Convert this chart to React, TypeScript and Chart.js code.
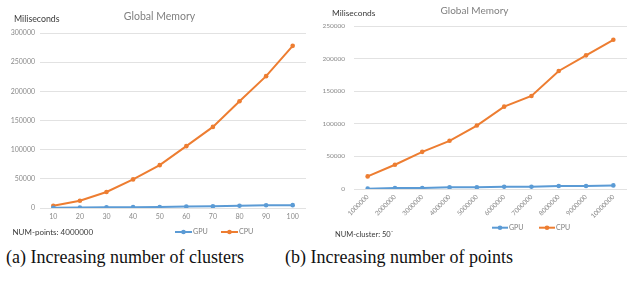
import React, { useEffect, useRef } from "react";
import { Chart, registerables } from "chart.js";

Chart.register(...registerables);

// ---------- data ----------
const clusterLabels = ["10", "20", "30", "40", "50", "60", "70", "80", "90", "100"];
const gpuByClusters = [400, 700, 1300, 1500, 1700, 2600, 2900, 3900, 4700, 4900];
const cpuByClusters = [3900, 12500, 27500, 49000, 73500, 106000, 139000, 183000, 226000, 278000];

const pointLabels = [
  "1000000", "2000000", "3000000", "4000000", "5000000",
  "6000000", "7000000", "8000000", "9000000", "10000000",
];
const gpuByPoints = [500, 1500, 1500, 2500, 2500, 3500, 3500, 4500, 4500, 5500];
const cpuByPoints = [19300, 37200, 57000, 73900, 97300, 126300, 142700, 181000, 205000, 228800];

const chartTitle = "Global Memory";
const yAxisLabel = "Miliseconds";
const noteA = "NUM-points: 4000000";
const noteB = "NUM-cluster: 50`";
const captionA = "(a) Increasing number of clusters";
const captionB = "(b) Increasing number of points";

const GPU_COLOR = "#5B9BD5";
const CPU_COLOR = "#ED7D31";
const FONT = "Lato, 'Open Sans', sans-serif";

type Decor = {
  yLabel: { x: number; y: number; size: number };
  note: { text: string; x: number; y: number; size: number };
  legend: { y: number; items: { x0: number; x1: number; tx: number }[]; size: number };
};

const decorPlugin = {
  id: "excelDecor",
  afterDraw(chart: any, _args: any, opts: Decor) {
    if (!opts || !opts.yLabel) return;
    const ctx = chart.ctx as CanvasRenderingContext2D;
    ctx.save();
    ctx.textBaseline = "middle";
    ctx.textAlign = "left";
    ctx.fillStyle = "#3a3a3a";
    ctx.font = `${opts.yLabel.size}px ${FONT}`;
    ctx.fillText(yAxisLabel, opts.yLabel.x, opts.yLabel.y);
    ctx.font = `${opts.note.size}px ${FONT}`;
    ctx.fillText(opts.note.text, opts.note.x, opts.note.y);
    const ds = chart.data.datasets;
    opts.legend.items.forEach((it, i) => {
      const d = ds[i];
      const y = opts.legend.y;
      ctx.strokeStyle = d.borderColor;
      ctx.lineWidth = 2;
      ctx.beginPath();
      ctx.moveTo(it.x0, y);
      ctx.lineTo(it.x1, y);
      ctx.stroke();
      ctx.fillStyle = d.borderColor;
      ctx.beginPath();
      ctx.arc((it.x0 + it.x1) / 2, y, 2.3, 0, Math.PI * 2);
      ctx.fill();
      ctx.fillStyle = "#7f7f7f";
      ctx.font = `${opts.legend.size}px ${FONT}`;
      ctx.fillText(d.label, it.tx, y);
    });
    ctx.restore();
  },
};

type PanelProps = {
  labels: string[];
  gpu: number[];
  cpu: number[];
  yMax: number;
  width: number;
  height: number;
  padding: { left: number; right: number; top: number; bottom: number };
  yAxisWidth: number;
  yTickPad: number;
  xAxisHeight: number;
  xTickPad: number;
  rotation: number;
  tickSize: number;
  titleSize: number;
  titlePad: { top: number; bottom: number };
  decor: Decor;
};

function Panel(p: PanelProps) {
  const ref = useRef<HTMLCanvasElement | null>(null);
  useEffect(() => {
    if (!ref.current) return;
    const mkDs = (label: string, data: number[], color: string) => ({
      label,
      data,
      borderColor: color,
      backgroundColor: color,
      borderWidth: 2,
      pointRadius: 2.3,
      pointBorderWidth: 0,
      pointBackgroundColor: color,
      tension: 0,
      fill: false,
    });
    const chart = new Chart(ref.current, {
      type: "line",
      data: {
        labels: p.labels,
        datasets: [mkDs("GPU", p.gpu, GPU_COLOR), mkDs("CPU", p.cpu, CPU_COLOR)],
      },
      options: {
        animation: false,
        responsive: false,
        devicePixelRatio: 1,
        layout: { padding: p.padding },
        plugins: {
          legend: { display: false },
          tooltip: { enabled: false },
          title: {
            display: true,
            text: chartTitle,
            color: "#808080",
            font: { family: FONT, size: p.titleSize, weight: "normal" },
            padding: p.titlePad,
          },
          excelDecor: p.decor,
        } as any,
        scales: {
          x: {
            type: "category",
            offset: true,
            grid: { display: false, drawTicks: false },
            border: { display: false },
            ticks: {
              autoSkip: false,
              minRotation: p.rotation,
              maxRotation: p.rotation,
              padding: p.xTickPad,
              color: "#8a8a8a",
              font: { family: FONT, size: p.tickSize },
            },
            afterFit: (s: any) => {
              s.height = p.xAxisHeight;
            },
          },
          y: {
            min: 0,
            max: p.yMax,
            grid: { color: "#e2e2e2", drawTicks: false, lineWidth: 1 },
            border: { display: false },
            ticks: {
              stepSize: 50000,
              padding: p.yTickPad,
              color: "#8a8a8a",
              font: { family: FONT, size: p.tickSize },
              callback: (v: any) => String(v),
            },
            afterFit: (s: any) => {
              s.width = p.yAxisWidth;
            },
          },
        },
      },
      plugins: [decorPlugin],
    });
    return () => chart.destroy();
  }, []);
  return (
    <canvas
      ref={ref}
      width={p.width}
      height={p.height}
      style={{ width: p.width, height: p.height, display: "block" }}
    />
  );
}

export default function App() {
  const captionStyle: React.CSSProperties = {
    position: "absolute",
    top: 248,
    fontFamily: "'Liberation Serif', 'Times New Roman', serif",
    fontSize: 18,
    lineHeight: "18px",
    color: "#111",
    whiteSpace: "nowrap",
  };
  return (
    <div
      style={{
        position: "absolute",
        left: 0,
        top: 0,
        width: 637,
        height: 284,
        background: "#fff",
        overflow: "hidden",
      }}
    >
      <div style={{ position: "absolute", left: 0, top: 0 }}>
        <Panel
          labels={clusterLabels}
          gpu={gpuByClusters}
          cpu={cpuByClusters}
          yMax={300000}
          width={310}
          height={240}
          padding={{ left: 9, right: 0, top: 0, bottom: 12 }}
          yAxisWidth={31}
          yTickPad={5}
          xAxisHeight={20}
          xTickPad={5}
          rotation={0}
          tickSize={7}
          titleSize={10.5}
          titlePad={{ top: 10, bottom: 10.4 }}
          decor={{
            yLabel: { x: 14, y: 19, size: 8.8 },
            note: { text: noteA, x: 12.5, y: 232, size: 8 },
            legend: {
              y: 232,
              size: 7.2,
              items: [
                { x0: 175, x1: 192, tx: 193 },
                { x0: 221, x1: 238, tx: 239 },
              ],
            },
          }}
        />
      </div>
      <div style={{ position: "absolute", left: 317, top: 0 }}>
        <Panel
          labels={pointLabels}
          gpu={gpuByPoints}
          cpu={cpuByPoints}
          yMax={250000}
          width={320}
          height={240}
          padding={{ left: 5, right: 10, top: 0, bottom: 16 }}
          yAxisWidth={32}
          yTickPad={9}
          xAxisHeight={35}
          xTickPad={4}
          rotation={45}
          tickSize={6.5}
          titleSize={10}
          titlePad={{ top: 5, bottom: 9 }}
          decor={{
            yLabel: { x: 15, y: 13, size: 8.4 },
            note: { text: noteB, x: 18, y: 235, size: 7.5 },
            legend: {
              y: 227.7,
              size: 7,
              items: [
                { x0: 175, x1: 191, tx: 192 },
                { x0: 222, x1: 238, tx: 239 },
              ],
            },
          }}
        />
      </div>
      <div style={{ ...captionStyle, left: 6 }}>{captionA}</div>
      <div style={{ ...captionStyle, left: 285 }}>{captionB}</div>
    </div>
  );
}
